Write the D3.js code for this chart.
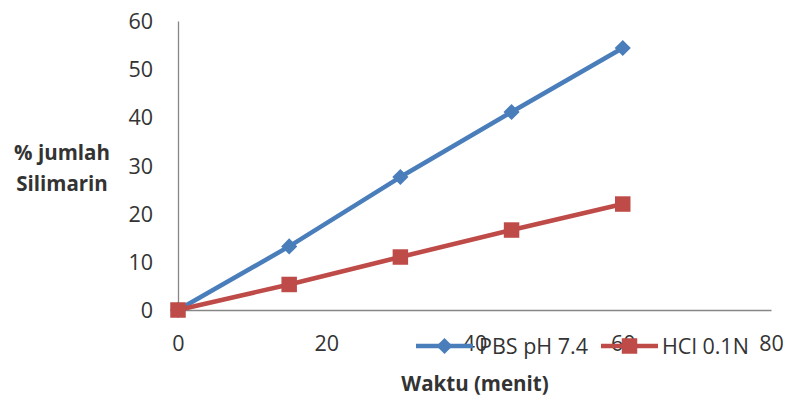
<!DOCTYPE html>
<html>
<head>
<meta charset="utf-8">
<script src="https://cdn.jsdelivr.net/npm/d3@7/dist/d3.min.js"></script>
<style>
  html, body { margin: 0; padding: 0; background: #fff; }
  svg { display: block; font-family: "Open Sans", "Liberation Sans", sans-serif; }
</style>
</head>
<body>
<svg id="chart" width="787" height="401"></svg>
<script>
// Release data: time (minutes) vs cumulative % silymarin
const times = [0, 15, 30, 45, 60];
const pbsValues = [0, 13.2, 27.6, 41.1, 54.4];
const hclValues = [0, 5.3, 11.0, 16.6, 22.0];
const seriesNames = ["PBS pH 7.4", "HCl 0.1N"];
const xTicks = [0, 20, 40, 60, 80];
const yTicks = [0, 10, 20, 30, 40, 50, 60];

const svg = d3.select("#chart");
const x = d3.scaleLinear().domain([0, 80]).range([178, 771]);
const y = d3.scaleLinear().domain([0, 60]).range([310, 21]);

const axisColor = "#868686";
const textColor = "#333";
const fontSize = 21.5;
const titleSize = 20.5;

// Axes
const yAxis = svg.append("g").attr("transform", `translate(${x(0)},0)`)
  .call(d3.axisLeft(y).tickValues(yTicks).tickSize(0).tickPadding(25));
const xAxis = svg.append("g").attr("transform", `translate(0,${y(0)})`)
  .call(d3.axisBottom(x).tickValues(xTicks).tickSize(0).tickPadding(26));
[xAxis, yAxis].forEach(g => {
  g.select(".domain").attr("stroke", axisColor).attr("stroke-width", 1.3);
  g.selectAll("text").attr("font-size", fontSize).attr("fill", textColor)
    .attr("font-family", "\"Open Sans\", sans-serif");
});
yAxis.selectAll("text").attr("dy", "0.35em");

// Axis titles
const title = (tx, ty, str) => svg.append("text").attr("x", tx).attr("y", ty)
  .attr("text-anchor", "middle").attr("font-weight", "bold")
  .attr("font-size", titleSize).attr("fill", textColor).text(str);
title(62, 160, "% jumlah");
title(62, 191, "Silimarin");
title(475, 391, "Waktu (menit)");

// Diamond markers are squares turned by 45 degrees
const series = [
  { name: seriesNames[0], values: pbsValues, color: "#4A7EBB", size: 130, rotate: 45 },
  { name: seriesNames[1], values: hclValues, color: "#BE4B48", size: 240, rotate: 0 }
];

const line = d3.line().x(d => x(d[0])).y(d => y(d[1]));

series.forEach(s => {
  const pts = times.map((t, i) => [t, s.values[i]]);
  svg.append("path").datum(pts).attr("d", line)
    .attr("fill", "none").attr("stroke", s.color).attr("stroke-width", 4.5)
    .attr("stroke-linejoin", "round");
  svg.selectAll(null).data(pts).enter().append("path")
    .attr("d", d3.symbol().type(d3.symbolSquare).size(s.size))
    .attr("transform", d => `translate(${x(d[0])},${y(d[1])}) rotate(${s.rotate})`)
    .attr("fill", s.color);
});

// Legend
const legendPos = [{ lx: 416, tx: 479 }, { lx: 601, tx: 662 }];
series.forEach((s, i) => {
  const g = svg.append("g").attr("transform", `translate(${legendPos[i].lx},346)`);
  g.append("line").attr("x1", 0).attr("x2", 57).attr("y1", 0).attr("y2", 0)
    .attr("stroke", s.color).attr("stroke-width", 4.5);
  g.append("path").attr("d", d3.symbol().type(d3.symbolSquare).size(s.size))
    .attr("transform", `translate(28.5,0) rotate(${s.rotate})`).attr("fill", s.color);
  svg.append("text").attr("x", legendPos[i].tx).attr("y", 346).attr("dy", "0.35em")
    .attr("font-size", fontSize).attr("fill", textColor).text(s.name);
});
</script>
</body>
</html>
